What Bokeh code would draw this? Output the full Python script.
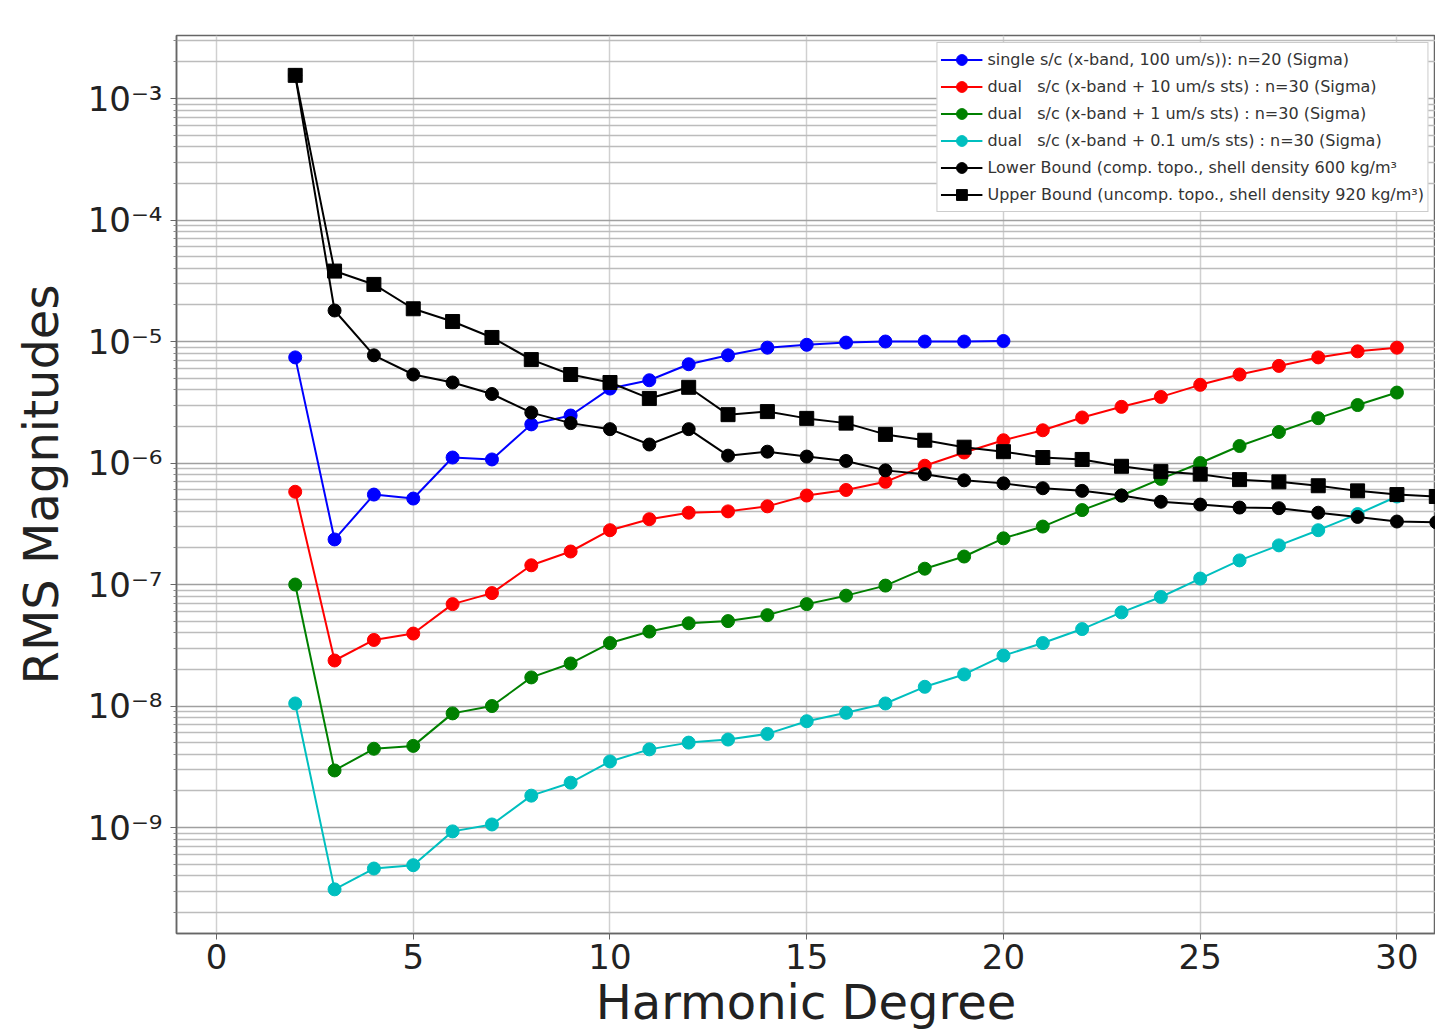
from bokeh.plotting import figure
from bokeh.models import (FixedTicker, CustomJSTickFormatter, Range1d, Legend, LegendItem)
from bokeh.embed import file_html
from bokeh.resources import INLINE

# ---------------- data ----------------
deg_single = list(range(2, 21))
single_sc = [7.4e-6, 2.35e-7, 5.5e-7, 5.1e-7, 1.11e-6, 1.07e-6, 2.08e-6, 2.46e-6, 4.1e-6,
             4.8e-6, 6.5e-6, 7.7e-6, 8.9e-6, 9.4e-6, 9.8e-6, 1.0e-5, 1.0e-5, 1.0e-5, 1.01e-5]

deg_dual = list(range(2, 31))
dual_10 = [5.8e-7, 2.37e-8, 3.5e-8, 3.95e-8, 6.9e-8, 8.5e-8, 1.44e-7, 1.87e-7, 2.8e-7, 3.45e-7,
           3.9e-7, 4.0e-7, 4.4e-7, 5.4e-7, 6.0e-7, 7.0e-7, 9.5e-7, 1.22e-6, 1.54e-6, 1.86e-6,
           2.37e-6, 2.9e-6, 3.5e-6, 4.4e-6, 5.35e-6, 6.3e-6, 7.4e-6, 8.3e-6, 8.9e-6]
dual_1 = [1.0e-7, 2.95e-9, 4.45e-9, 4.7e-9, 8.7e-9, 1.0e-8, 1.72e-8, 2.24e-8, 3.3e-8, 4.1e-8,
          4.8e-8, 5.0e-8, 5.6e-8, 6.9e-8, 8.1e-8, 9.8e-8, 1.35e-7, 1.7e-7, 2.4e-7, 3.0e-7,
          4.1e-7, 5.4e-7, 7.4e-7, 1.0e-6, 1.38e-6, 1.8e-6, 2.34e-6, 3.0e-6, 3.8e-6]
dual_01 = [1.05e-8, 3.1e-10, 4.6e-10, 4.9e-10, 9.3e-10, 1.06e-9, 1.83e-9, 2.34e-9, 3.5e-9, 4.4e-9,
           5.0e-9, 5.3e-9, 5.9e-9, 7.5e-9, 8.8e-9, 1.05e-8, 1.44e-8, 1.82e-8, 2.6e-8, 3.3e-8,
           4.3e-8, 5.9e-8, 7.9e-8, 1.12e-7, 1.58e-7, 2.1e-7, 2.8e-7, 3.8e-7, 5.3e-7]

deg_bound = list(range(2, 32))
lower_bound = [1.55e-3, 1.8e-5, 7.7e-6, 5.35e-6, 4.6e-6, 3.7e-6, 2.6e-6, 2.13e-6, 1.9e-6, 1.42e-6,
               1.9e-6, 1.15e-6, 1.24e-6, 1.13e-6, 1.04e-6, 8.7e-7, 8.1e-7, 7.2e-7, 6.8e-7, 6.2e-7,
               5.9e-7, 5.4e-7, 4.8e-7, 4.55e-7, 4.3e-7, 4.25e-7, 3.9e-7, 3.6e-7, 3.3e-7, 3.25e-7]
upper_bound = [1.55e-3, 3.8e-5, 2.95e-5, 1.86e-5, 1.46e-5, 1.08e-5, 7.1e-6, 5.35e-6, 4.6e-6, 3.4e-6,
               4.2e-6, 2.5e-6, 2.65e-6, 2.33e-6, 2.13e-6, 1.72e-6, 1.54e-6, 1.35e-6, 1.24e-6, 1.11e-6,
               1.07e-6, 9.4e-7, 8.5e-7, 8.1e-7, 7.3e-7, 7.0e-7, 6.5e-7, 5.9e-7, 5.5e-7, 5.3e-7]

labels = [
    "single s/c (x-band, 100 um/s)): n=20 (Sigma)",
    "dual   s/c (x-band + 10 um/s sts) : n=30 (Sigma)",
    "dual   s/c (x-band + 1 um/s sts) : n=30 (Sigma)",
    "dual   s/c (x-band + 0.1 um/s sts) : n=30 (Sigma)",
    "Lower Bound (comp. topo., shell density 600 kg/m\u00b3",
    "Upper Bound (uncomp. topo., shell density 920 kg/m\u00b3)",
]
x_ticks = [0, 5, 10, 15, 20, 25, 30]
y_major = [1e-9, 1e-8, 1e-7, 1e-6, 1e-5, 1e-4, 1e-3]

# ---------------- figure ----------------
FONT = "DejaVu Sans"
p = figure(width=1435, height=1032, y_axis_type="log",
           x_range=Range1d(-1.017, 30.98),
           y_range=Range1d(10 ** -9.872, 10 ** -2.4815),
           output_backend="svg", toolbar_location=None,
           min_border_left=176, min_border_top=35, min_border_bottom=99, min_border_right=0)

p.background_fill_color = "white"
p.outline_line_color = "#666666"
p.outline_line_width = 1.5

# ticks
p.xaxis.ticker = FixedTicker(ticks=x_ticks)
y_minor = [m * 10.0 ** k for k in range(-10, -1) for m in range(2, 10)]
p.yaxis.ticker = FixedTicker(ticks=y_major, minor_ticks=y_minor)
p.yaxis.formatter = CustomJSTickFormatter(code="""
const sup = {'-':'\u207b','0':'\u2070','1':'\u00b9','2':'\u00b2','3':'\u00b3','4':'\u2074',
             '5':'\u2075','6':'\u2076','7':'\u2077','8':'\u2078','9':'\u2079'};
const e = Math.round(Math.log10(tick));
return '10' + String(e).split('').map(c => sup[c]).join('');
""")

for ax in (p.xaxis[0], p.yaxis[0]):
    ax.axis_line_color = "#666666"
    ax.axis_line_width = 1.5
    ax.major_tick_line_color = "#666666"
    ax.minor_tick_line_color = "#888888"
    ax.major_tick_out = 6
    ax.major_tick_in = 0
    ax.minor_tick_out = 3
    ax.minor_tick_in = 0
    ax.major_label_text_font = FONT
    ax.major_label_text_color = "#222222"
    ax.major_label_text_font_size = "34px"
    ax.axis_label_text_font = FONT
    ax.axis_label_text_font_style = "normal"
    ax.axis_label_text_color = "#222222"
    ax.axis_label_text_font_size = "48px"

p.xaxis.axis_label = "Harmonic Degree"
p.yaxis.axis_label = "RMS Magnitudes"
p.xaxis.major_label_standoff = 4
p.xaxis.axis_label_standoff = 2
p.yaxis.major_label_standoff = 8
p.yaxis.axis_label_standoff = 16

# grid
p.xgrid.grid_line_color = "#d0d0d0"
p.xgrid.grid_line_width = 1.5
p.ygrid.grid_line_color = "#a0a0a0"
p.ygrid.grid_line_width = 1.5
p.ygrid.minor_grid_line_color = "#bcbcbc"
p.ygrid.minor_grid_line_width = 1.3

# series
series = [
    (deg_single, single_sc, "#0000ff", "circle"),
    (deg_dual, dual_10, "#ff0000", "circle"),
    (deg_dual, dual_1, "#008000", "circle"),
    (deg_dual, dual_01, "#00bfbf", "circle"),
    (deg_bound, lower_bound, "#000000", "circle"),
    (deg_bound, upper_bound, "#000000", "square"),
]
items = []
for (xs, ys, col, mk), lab in zip(series, labels):
    ln = p.line(xs, ys, line_color=col, line_width=2)
    sc = p.scatter(xs, ys, marker=mk, size=13 if mk == "circle" else 14,
                   fill_color=col, line_color=col)
    items.append(LegendItem(label=lab, renderers=[ln, sc]))

legend = Legend(items=items, location="top_right")
legend.label_text_font = FONT
legend.label_text_font_size = "16px"
legend.label_text_color = "#333333"
legend.glyph_width = 42
legend.glyph_height = 27
legend.label_height = 27
legend.spacing = 0
legend.padding = 3
legend.margin = 7
legend.border_line_color = "#999999"
legend.border_line_width = 1.5
legend.background_fill_alpha = 1.0
p.add_layout(legend)

open("out.html", "w").write(file_html(p, INLINE))
